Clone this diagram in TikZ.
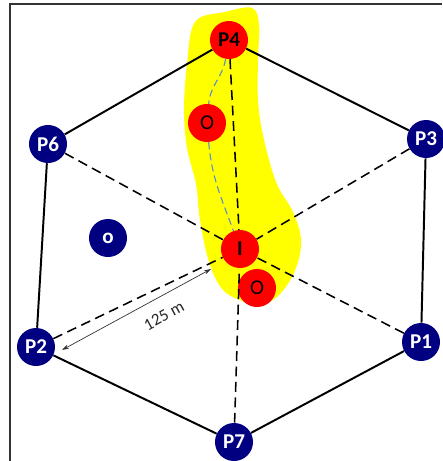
\documentclass[tikz,border=0pt]{standalone}
\usepackage{fontspec}
\setmainfont{Carlito}
\definecolor{navy}{HTML}{000080}
\definecolor{hilite}{HTML}{FFFF00}
\definecolor{pathblue}{HTML}{5B8FC9}
\usetikzlibrary{arrows.meta}

\begin{document}
\begin{tikzpicture}[x=0.025cm,y=-0.025cm,
  well/.style={circle,fill=navy,text=white,font=\fontsize{15}{16}\selectfont\bfseries,minimum size=0.95cm,inner sep=0pt},
  spot/.style={circle,fill=red,font=\fontsize{15}{16}\selectfont,minimum size=0.95cm,inner sep=0pt},
  edge/.style={line width=1.4pt},
  ray/.style={line width=1.1pt,dash pattern=on 7pt off 4pt}]
\useasboundingbox (0,0) rectangle (442,461);
\draw[line width=0.9pt,black!80] (10,461)--(10,4)--(442,4);
% highlighted zone
\fill[hilite] plot[smooth cycle,tension=0.6] coordinates {(195,22) (225,12) (252,8) (259,25) (258,60) (258,100) (263,135) (276,182) (293,212) (301,240) (296,268) (281,293) (262,305) (245,302) (223,290) (209,262) (200,220) (196,184) (187,148) (184,110) (187,65)};
\foreach \n/\x/\y in {P3/426/139,P1/421/342,P7/234/442,P2/36/347,P6/48/144}
  \node[well] (\n) at (\x,\y) {\n};
\node[well] (o) at (108,238) {o};
\node[spot,font=\fontsize{15}{16}\selectfont\bfseries] (P4) at (229,40) {P4};
\node[spot] (Oa) at (207,123) {O};
\node[spot,font=\fontsize{15}{16}\selectfont\bfseries] (I) at (240,249) {I};
\node[spot] (Ob) at (257,288) {O};
\draw[edge] (P4)--(P3)--(P1)--(P7)--(P2)--(P6)--(P4);
\foreach \a in {P4,P6,P3,P2,P1,P7} \draw[ray] (\a)--(I);
\draw[pathblue,line width=0.8pt,dash pattern=on 5pt off 3pt] (P4) to[out=-100,in=85] (Oa) (Oa) to[out=-85,in=110] (I);
% distance
\coordinate (a) at (62,350);
\coordinate (b) at (211,269);
\draw[black!80,line width=0.5pt,{Stealth[length=5pt,width=3pt]}-{Stealth[length=5pt,width=3pt]}] (a)--(b);
\node[rotate=28.5,text=black!85,font=\fontsize{12}{13}\selectfont] (dist) at (164,316) {125 m};
\end{tikzpicture}
\end{document}
